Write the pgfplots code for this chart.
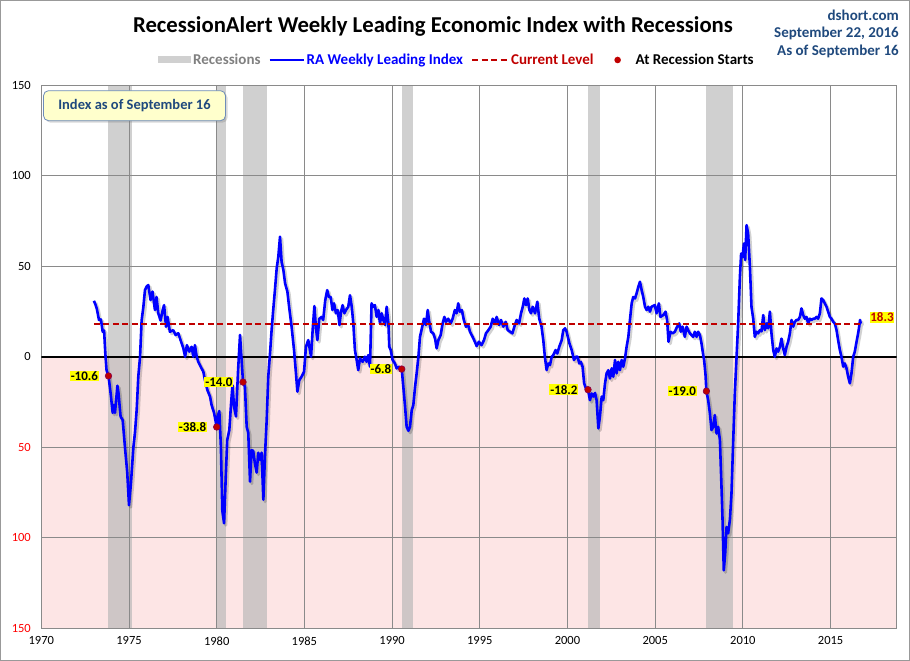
\documentclass[border=0pt]{standalone}
\usepackage{pgfplots}
\pgfplotsset{compat=1.18}
\usepackage{pgfplotstable}
\usepackage{fontspec}
\setmainfont{Carlito}
\usetikzlibrary{shadows}
\definecolor{recgray}{RGB}{180,180,180}
\definecolor{recleg}{RGB}{208,208,208}
\definecolor{pinkbg}{RGB}{253,229,229}
\definecolor{darkred}{RGB}{192,0,0}
\definecolor{navytext}{RGB}{31,73,125}
\definecolor{gridgray}{RGB}{138,138,138}
\definecolor{boxyellow}{RGB}{255,255,204}
\definecolor{boxborder}{RGB}{110,140,185}
\definecolor{pureblue}{RGB}{0,0,255}
\definecolor{hlyellow}{RGB}{255,255,0}

\pgfplotstableread{
x y
1973.00 30.9
1973.10 28.5
1973.16 26.7
1973.29 20.3
1973.40 20.6
1973.50 13.8
1973.58 14.5
1973.65 1.8
1973.72 -7.4
1973.83 -10.6
1973.95 -20
1974.07 -31
1974.13 -26.7
1974.20 -31
1974.34 -16
1974.40 -20
1974.52 -33
1974.64 -35
1974.77 -50
1974.90 -64
1975.00 -82
1975.11 -70
1975.25 -50
1975.34 -42
1975.44 -29
1975.53 -11
1975.63 0
1975.72 20
1975.82 27.6
1975.91 36.8
1976.00 38.7
1976.10 39.6
1976.23 31.3
1976.34 36
1976.48 25.8
1976.57 33
1976.67 24
1976.80 20
1976.92 25.8
1977.00 28.5
1977.11 16.6
1977.20 22
1977.33 13.8
1977.52 14.7
1977.66 12
1977.81 13
1977.94 9.2
1978.10 4.6
1978.20 0
1978.30 6.4
1978.44 2.8
1978.57 5.5
1978.67 0
1978.76 6.4
1978.86 0
1978.95 -2.8
1979.09 -5.5
1979.24 -8.3
1979.33 -12.9
1979.47 -18.4
1979.62 -22
1979.71 -26.7
1979.85 -31
1980.00 -38.8
1980.05 -33
1980.15 -30
1980.24 -50
1980.32 -85
1980.42 -92
1980.51 -68
1980.60 -46
1980.72 -40.5
1980.82 -25.8
1980.90 -15.7
1980.99 -27.6
1981.10 -33
1981.22 -7.4
1981.33 12
1981.42 -1.8
1981.50 -14.0
1981.61 -16.6
1981.71 -38.7
1981.80 -42
1981.90 -69
1981.99 -51.6
1982.08 -52
1982.18 -59
1982.28 -64
1982.37 -53
1982.47 -57
1982.56 -53
1982.66 -79
1982.75 -55
1982.85 -35
1982.94 -11
1983.04 1.8
1983.13 14.7
1983.23 26.7
1983.32 36.8
1983.42 48.8
1983.51 55
1983.61 66.3
1983.70 52.5
1983.80 48
1983.90 40.5
1984.03 36
1984.14 26.7
1984.27 16.6
1984.41 3.7
1984.52 -9.2
1984.60 -19.3
1984.71 -12.9
1984.84 -11
1984.98 -8.3
1985.09 5.5
1985.22 9.2
1985.38 0
1985.47 14.7
1985.57 28
1985.66 15.7
1985.74 9.2
1985.85 21
1985.98 22
1986.07 20.3
1986.19 31.3
1986.30 36.8
1986.40 33
1986.50 33
1986.60 25.8
1986.69 29.5
1986.80 24
1986.90 25.8
1987.00 17.5
1987.09 24.9
1987.18 28.5
1987.28 24
1987.37 25.8
1987.50 27.6
1987.60 34
1987.70 27.6
1987.79 18.4
1987.88 3.7
1987.98 -1.8
1988.07 -7.4
1988.17 -0.9
1988.32 -2.8
1988.45 0
1988.55 -2.8
1988.64 0.9
1988.74 -5.5
1988.83 29.5
1988.93 27.6
1989.02 28.5
1989.12 22
1989.22 25.8
1989.31 18.4
1989.41 24
1989.50 20.3
1989.60 17.5
1989.69 27.6
1989.79 18.4
1989.84 5.5
1989.92 3.7
1990.03 -1.8
1990.16 -3.7
1990.26 -6.4
1990.41 -5.5
1990.55 -6.8
1990.64 -16.6
1990.74 -27.6
1990.83 -38.7
1990.93 -40.9
1991.02 -38.7
1991.12 -29.5
1991.21 -26.7
1991.31 -16.6
1991.40 -9.2
1991.50 0
1991.59 11
1991.72 16.6
1991.82 21
1991.93 17.5
1992.03 25.8
1992.12 19.3
1992.22 13.8
1992.35 12.9
1992.45 10
1992.54 4.6
1992.64 9.2
1992.77 12
1992.88 18.4
1992.98 22
1993.07 19.3
1993.20 21
1993.34 18.4
1993.45 21
1993.58 25.8
1993.68 24
1993.77 29.5
1993.87 24.9
1993.98 25.8
1994.09 20.3
1994.21 16.6
1994.34 17.5
1994.44 13.8
1994.59 11
1994.72 8.3
1994.82 5.9
1994.95 8.3
1995.10 6.4
1995.24 9.2
1995.35 12.9
1995.49 14.7
1995.62 16.6
1995.74 21
1995.87 18.4
1995.96 22
1996.10 17.5
1996.21 20.3
1996.34 16.6
1996.48 19.3
1996.59 14.7
1996.73 13.8
1996.86 12.9
1996.97 16.6
1997.10 20.3
1997.24 18.4
1997.35 24
1997.45 27.6
1997.54 32.2
1997.64 28.5
1997.73 32.2
1997.83 25.8
1997.92 24
1998.02 27.6
1998.15 24
1998.28 30.4
1998.39 21
1998.52 16.6
1998.62 9.2
1998.71 0
1998.81 -7.4
1998.90 -3.7
1999.00 -4.6
1999.10 0
1999.19 0.9
1999.32 3.7
1999.42 1.8
1999.53 5.5
1999.67 9.2
1999.76 14.7
1999.86 15.7
1999.95 13.8
2000.11 7.4
2000.24 3.7
2000.37 -1.8
2000.49 0
2000.58 0
2000.67 -3.7
2000.76 -2.8
2000.86 -5.5
2000.95 -14.7
2001.05 -17.5
2001.17 -18.2
2001.28 -24
2001.38 -20.3
2001.47 -22
2001.57 -20
2001.66 -24
2001.76 -39.6
2001.85 -33
2001.95 -22
2002.04 -24
2002.14 -14.7
2002.23 -9.2
2002.33 -7.4
2002.42 -12
2002.52 -6.4
2002.61 -11
2002.71 -1.8
2002.80 -9.2
2002.90 -2.8
2002.99 -7.4
2003.09 -1.8
2003.18 -5.5
2003.28 -0.9
2003.37 5.5
2003.47 11
2003.56 20.3
2003.66 29.5
2003.75 33
2003.85 32.2
2003.94 35
2004.04 38.7
2004.13 41.4
2004.23 36.8
2004.32 33
2004.42 27.6
2004.51 25.8
2004.61 27.6
2004.70 24.9
2004.79 27.6
2004.98 28.5
2005.08 24
2005.21 29.5
2005.30 22
2005.46 23
2005.59 24.9
2005.68 20.3
2005.76 8.3
2005.87 13.8
2005.99 12.9
2006.12 13.8
2006.25 16.6
2006.37 18.4
2006.46 13.8
2006.56 16.6
2006.69 11
2006.79 16.6
2006.88 14.7
2006.98 12.9
2007.07 12
2007.17 11
2007.26 13.8
2007.36 11
2007.45 13.8
2007.55 12
2007.64 7.4
2007.74 0.9
2007.79 -1.8
2007.87 -10
2007.92 -19.0
2008.02 -24
2008.12 -31.3
2008.21 -40.5
2008.31 -38.7
2008.40 -32.2
2008.50 -42.4
2008.59 -38.7
2008.69 -46
2008.78 -71.8
2008.84 -90
2008.91 -118
2008.99 -108.7
2009.07 -94
2009.16 -97.6
2009.26 -90
2009.35 -75.5
2009.45 -46
2009.54 -20.3
2009.64 0
2009.73 18.4
2009.83 44.2
2009.90 57
2009.98 55
2010.06 62.6
2010.13 53.4
2010.21 72.7
2010.30 68
2010.40 49.7
2010.49 27.6
2010.59 21
2010.68 11
2010.78 13.8
2010.87 12.9
2010.97 14.7
2011.06 14
2011.16 23
2011.25 14.7
2011.35 18.4
2011.44 15.7
2011.54 24.9
2011.63 12.9
2011.73 3.7
2011.82 0
2011.92 4.6
2012.01 2.8
2012.11 5.5
2012.20 10
2012.30 4.6
2012.39 0.9
2012.49 5.5
2012.58 8.3
2012.68 12.9
2012.77 20.3
2012.87 16.6
2012.96 19.3
2013.06 20.3
2013.15 20.3
2013.25 22
2013.34 26.7
2013.44 23
2013.53 21
2013.63 22
2013.72 18.4
2013.82 21
2013.91 20.3
2014.01 21
2014.10 21
2014.20 22
2014.29 21
2014.39 24
2014.48 32.2
2014.58 31.3
2014.67 29.5
2014.77 27.6
2014.86 24.9
2014.96 22
2015.05 21
2015.15 19.3
2015.24 18.4
2015.34 14.7
2015.43 9.2
2015.53 3.7
2015.62 0
2015.72 -5.5
2015.81 -3.7
2015.91 -6.4
2016.00 -11
2016.10 -14.7
2016.19 -9.2
2016.29 0
2016.38 2.8
2016.48 8.3
2016.57 12.9
2016.63 16.6
2016.68 20.3
2016.72 18.3
}\ratable

\pgfplotstableread{
x y
1973.83 -10.6
1980.00 -38.8
1981.50 -14.0
1990.55 -6.8
2001.17 -18.2
2007.92 -19.0
}\starts

\begin{document}
\begin{tikzpicture}
\begin{axis}[
  at={(41.3pt,32.7pt)}, anchor=south west,
  scale only axis, width=855.4pt, height=543.1pt,
  set layers=standard,
  xmin=1970, xmax=2018.77, ymin=-150, ymax=150,
  xtick={1970,1975,...,2015},
  ytick={-150,-100,-50,0,50,100,150},
  yticklabels={\textcolor{red}{150},\textcolor{red}{100},\textcolor{red}{50},0,50,100,150},
  scaled x ticks=false,
  /pgf/number format/1000 sep={},
  /pgf/number format/assume math mode=true,
  grid=major,
  grid style={gridgray, line width=0.9pt},
  axis line style={gridgray, line width=0.9pt},
  major tick length=0pt,
  xticklabel style={font=\fontsize{12.5}{14}\selectfont, yshift=-5pt},
  yticklabel style={font=\fontsize{12.5}{14}\selectfont, xshift=-7pt},
  legend columns=4,
  legend style={at={(axis description cs:0.1364,1.0464)}, anchor=west,
    draw=none, fill=none, inner sep=0pt,
    font=\bfseries\fontsize{15}{17}\selectfont,
    nodes={inner sep=2pt},
    /tikz/every even column/.append style={column sep=6pt}},
]
% background pink region below zero
\addplot[on layer=axis background, fill=pinkbg, draw=none, forget plot]
  coordinates {(1970,0) (2018.77,0) (2018.77,-150) (1970,-150)} -- cycle;
% recession bands
\addplot[on layer=axis background, fill=recgray, fill opacity=0.63, draw=none, forget plot]
  coordinates {(1973.83,-150) (1973.83,150) (1975.17,150) (1975.17,-150)} -- cycle;
\addplot[on layer=axis background, fill=recgray, fill opacity=0.63, draw=none, forget plot]
  coordinates {(1980.0,-150) (1980.0,150) (1980.53,150) (1980.53,-150)} -- cycle;
\addplot[on layer=axis background, fill=recgray, fill opacity=0.63, draw=none, forget plot]
  coordinates {(1981.5,-150) (1981.5,150) (1982.85,150) (1982.85,-150)} -- cycle;
\addplot[on layer=axis background, fill=recgray, fill opacity=0.63, draw=none, forget plot]
  coordinates {(1990.55,-150) (1990.55,150) (1991.2,150) (1991.2,-150)} -- cycle;
\addplot[on layer=axis background, fill=recgray, fill opacity=0.63, draw=none, forget plot]
  coordinates {(2001.17,-150) (2001.17,150) (2001.86,150) (2001.86,-150)} -- cycle;
\addplot[on layer=axis background, fill=recgray, fill opacity=0.63, draw=none, forget plot]
  coordinates {(2007.92,-150) (2007.92,150) (2009.42,150) (2009.42,-150)} -- cycle;

\addlegendimage{legend image code/.code={\fill[recleg, draw=none] (0pt,-3.5pt) rectangle (33pt,3.5pt);}}
\addlegendentry{\textcolor{gray}{Recessions}}

% zero line
\addplot[black, line width=2.2pt, forget plot] coordinates {(1970,0) (2018.77,0)};
% shadow of the index line
\addplot[black, opacity=0.18, line width=3pt, line join=round, xshift=1.8pt, yshift=-2pt, forget plot]
  table[x=x,y=y] {\ratable};
% index line
\addplot[pureblue, line width=2.6pt, line join=round,
  legend image code/.code={\draw[pureblue, line width=2.2pt] (0pt,0pt) -- (34pt,0pt);}]
  table[x=x,y=y] {\ratable};
\addlegendentry{\textcolor{pureblue}{RA Weekly Leading Index}}
% current level
\addplot[darkred, line width=2pt, dash pattern=on 6pt off 3.5pt,
  legend image code/.code={\draw[darkred, line width=2pt, dash pattern=on 6pt off 3.5pt] (0pt,0pt) -- (36pt,0pt);}]
  coordinates {(1973.0,18.3) (2016.72,18.3)};
\addlegendentry{\textcolor{darkred}{Current Level}}
% recession starts
\addplot[only marks, mark=*, mark size=3.3pt, mark options={fill=darkred, draw=darkred!70!blue, line width=0.6pt},
  legend image code/.code={\path[draw=none, fill=none] (0pt,0pt) -- (32pt,0pt); \fill[darkred, draw=none] (16pt,0pt) circle (3.3pt);}]
  table[x=x,y=y] {\starts};
\addlegendentry{At Recession Starts}

\begin{scope}[every node/.style={fill=hlyellow, inner sep=0.8pt, anchor=east, xshift=-9.5pt, font=\bfseries\fontsize{13}{14}\selectfont}]
\node at (axis cs:1973.83,-10.6) {-10.6};
\node at (axis cs:1980.00,-38.8) {-38.8};
\node at (axis cs:1981.50,-14.0) {-14.0};
\node at (axis cs:1990.55,-6.8) {-6.8};
\node at (axis cs:2001.17,-18.2) {-18.2};
\node at (axis cs:2007.92,-19.0) {-19.0};
\end{scope}
\node[fill=hlyellow, inner sep=0.8pt, text=darkred, font=\bfseries\fontsize{13}{14}\selectfont] at (axis cs:2017.93,21.8) {18.3};
\end{axis}

% title
\node[font=\bfseries\fontsize{22.7}{26}\selectfont] at (433pt,635pt) {RecessionAlert Weekly Leading Economic Index with Recessions};
% right header
\begin{scope}[every node/.style={anchor=east, text=navytext, font=\bfseries\fontsize{15}{17}\selectfont, inner sep=0pt}]
\node at (899pt,646pt) {dshort.com};
\node at (899pt,628pt) {September 22, 2016};
\node at (899pt,610pt) {As of September 16};
\end{scope}
% text box
\node[draw=boxborder, fill=boxyellow, rounded corners=5pt, line width=0.8pt,
  minimum width=182pt, minimum height=30pt, drop shadow={opacity=0.3, shadow xshift=2pt, shadow yshift=-2pt},
  text=navytext, font=\bfseries\fontsize{14.5}{16}\selectfont] at (134.5pt,555.3pt) {Index as of September 16};
\draw[gray!80, line width=1pt] (0.5pt,0.5pt) rectangle (909.5pt,660.5pt);
\pgfresetboundingbox
\path[use as bounding box] (0pt,0pt) rectangle (910pt,661pt);
\end{tikzpicture}
\end{document}
